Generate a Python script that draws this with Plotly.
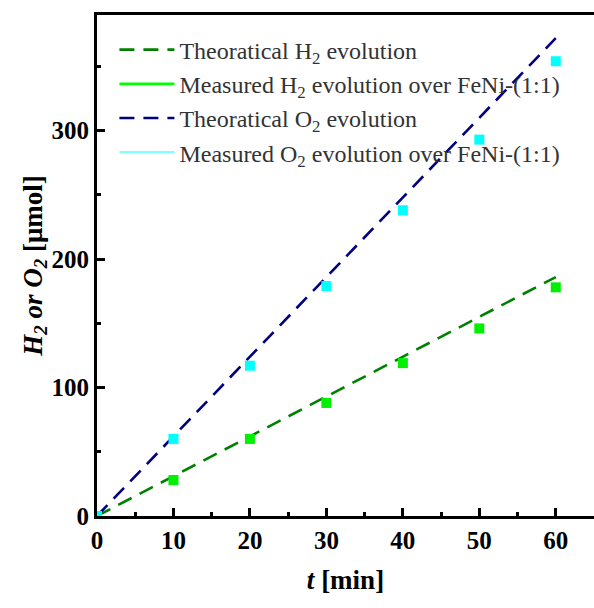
import plotly.graph_objects as go

time_min = [0, 10, 20, 30, 40, 50, 60]
theo_h2 = [0, 31, 62, 93, 124, 155, 186]
meas_h2 = [0, 28, 60, 88, 119, 146, 178]
theo_o2 = [0, 62, 124, 186, 248, 310, 372]
meas_o2 = [0, 60, 117, 179, 238, 293, 354]

FONT = "Liberation Serif"
DASH = "15px,9px"

fig = go.Figure()
fig.add_trace(go.Scatter(x=time_min, y=theo_h2, mode="lines",
                         line=dict(color="#008000", width=2.6, dash=DASH),
                         name="Theoratical H<sub>2</sub> evolution"))
fig.add_trace(go.Scatter(x=[None], y=[None], mode="lines",
                         line=dict(color="#00ff00", width=2.6),
                         name="Measured H<sub>2</sub> evolution over FeNi-(1:1)"))
fig.add_trace(go.Scatter(x=time_min, y=theo_o2, mode="lines",
                         line=dict(color="#000080", width=2.6, dash=DASH),
                         name="Theoratical O<sub>2</sub> evolution"))
fig.add_trace(go.Scatter(x=[None], y=[None], mode="lines",
                         line=dict(color="#80ffff", width=2.6),
                         name="Measured O<sub>2</sub> evolution over FeNi-(1:1)"))
fig.add_trace(go.Scatter(x=time_min, y=meas_h2, mode="markers", showlegend=False,
                         marker=dict(symbol="square", size=10, color="#00f000")))
fig.add_trace(go.Scatter(x=time_min, y=meas_o2, mode="markers", showlegend=False,
                         marker=dict(symbol="square", size=10, color="#00ffff")))

fig.update_layout(
    width=594, height=608,
    margin=dict(l=97, r=0, t=15, b=92),
    paper_bgcolor="white", plot_bgcolor="white",
    font=dict(family=FONT, color="black"),
    legend=dict(x=0.035, y=0.975, xanchor="left", yanchor="top",
                bgcolor="rgba(0,0,0,0)", itemwidth=55,
                font=dict(family=FONT, size=24, color="#333333"),
                tracegroupgap=0),
)
fig.update_xaxes(range=[0, 65], showgrid=False, zeroline=False,
                 showline=True, linecolor="black", linewidth=3, mirror=True,
                 ticks="inside", ticklen=8, tickwidth=3, tickcolor="black",
                 tickvals=[0, 10, 20, 30, 40, 50, 60],
                 minor=dict(ticks="inside", ticklen=4, tickwidth=3, tickcolor="black", dtick=5),
                 tickfont=dict(family=FONT, size=25, color="black", weight="bold"),
                 title=dict(text="<b><i>t</i> [min]</b>", font=dict(family=FONT, size=27), standoff=18))
fig.update_yaxes(range=[0, 390], showgrid=False, zeroline=False,
                 showline=True, linecolor="black", linewidth=3,
                 ticks="inside", ticklen=8, tickwidth=3, tickcolor="black",
                 tickvals=[0, 100, 200, 300],
                 minor=dict(ticks="inside", ticklen=4, tickwidth=3, tickcolor="black", dtick=50),
                 tickfont=dict(family=FONT, size=25, color="black", weight="bold"),
                 title=dict(text="<b><i>H<sub>2</sub> or O<sub>2</sub></i> [μmol]</b>",
                            font=dict(family=FONT, size=27), standoff=0))

fig.write_html("out.html")
